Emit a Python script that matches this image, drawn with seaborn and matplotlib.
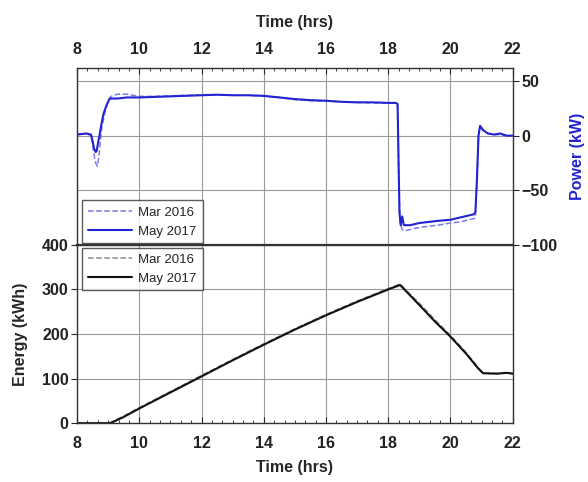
import matplotlib
matplotlib.use("Agg")
import matplotlib.pyplot as plt
from matplotlib.ticker import MultipleLocator
import pandas as pd
import seaborn as sns

# power (kW), May 2017 - solid
t_pow_may = [8.0, 8.3, 8.45, 8.5, 8.55, 8.6, 8.63, 8.68, 8.72, 8.78, 8.85, 8.95, 9.05, 9.3,
             9.6, 10.0, 10.5, 11.0, 11.5, 12.0, 12.5, 13.0, 13.5, 14.0, 14.5, 15.0, 15.5,
             16.0, 16.5, 17.0, 17.5, 18.0, 18.25, 18.3, 18.33, 18.36, 18.4, 18.45, 18.5,
             18.7, 19.0, 19.3, 19.6, 20.0, 20.3, 20.6, 20.75, 20.8, 20.85, 20.9, 20.95,
             21.05, 21.2, 21.4, 21.6, 21.8, 22.0]
p_may = [1, 2, 1, -5, -12, -15, -14, -6, 0, 10, 20, 28, 34, 34,
         35, 35, 35.5, 36, 36.5, 37, 37.5, 37, 37, 36.5, 35, 33.5, 32.5,
         32, 31, 30.5, 30.5, 30, 30, 29, -20, -70, -82, -74, -82,
         -82, -80, -79, -78, -77, -75, -73, -72, -70, -40, 0, 9,
         5, 2, 1, 2, 0, 0]

# power (kW), Mar 2016 - dashed
t_pow_mar = [8.0, 8.3, 8.45, 8.5, 8.55, 8.6, 8.65, 8.7, 8.75, 8.8, 8.9, 9.0, 9.1, 9.3,
             9.6, 9.8, 10.0, 10.5, 11.0, 11.5, 12.0, 12.5, 13.0, 13.5, 14.0, 14.5, 15.0,
             15.5, 16.0, 16.5, 17.0, 17.5, 18.0, 18.25, 18.3, 18.33, 18.38, 18.45, 18.55,
             18.7, 19.0, 19.3, 19.6, 20.0, 20.3, 20.6, 20.75, 20.8, 20.85, 20.9, 20.95,
             21.05, 21.2, 21.4, 21.6, 21.8, 22.0]
p_mar = [1, 2, 0, -8, -18, -25, -28, -20, -5, 8, 22, 32, 36, 38,
         38, 37, 36, 36, 36.5, 37, 37.5, 37.5, 37, 37, 36, 35, 33,
         32, 31.5, 31, 30.5, 30, 30, 29.5, 28, -30, -80, -86, -87,
         -86, -84, -83, -82, -80, -79, -77, -76, -75, -40, 0, 8,
         5, 2, 1, 1, 0, 0]

# energy (kWh)
t_en_may = [8.0, 8.5, 9.0, 9.1, 9.5, 10.0, 11.0, 12.0, 13.0, 14.0, 15.0, 16.0, 17.0,
            18.0, 18.38, 19.0, 19.5, 20.0, 20.5, 20.9, 21.05, 21.5, 21.8, 22.0]
e_may = [0, 0, 0, 1, 14, 33, 69, 105, 141, 176, 210, 242, 272,
         300, 310, 265, 228, 194, 156, 122, 112, 111, 113, 111]
t_en_mar = [8.0, 8.5, 9.0, 9.1, 9.5, 10.0, 11.0, 12.0, 13.0, 14.0, 15.0, 16.0, 17.0,
            18.0, 18.38, 19.0, 19.5, 20.0, 20.5, 20.9, 21.05, 21.5, 21.8, 22.0]
e_mar = [0, 0, 0, 2, 16, 35, 71, 107, 143, 178, 212, 244, 274,
         302, 312, 269, 232, 197, 159, 124, 113, 112, 113, 112]

pow_may = pd.DataFrame({"t": t_pow_may, "p": p_may})
pow_mar = pd.DataFrame({"t": t_pow_mar, "p": p_mar})
en_may = pd.DataFrame({"t": t_en_may, "e": e_may})
en_mar = pd.DataFrame({"t": t_en_mar, "e": e_mar})

sns.set_style("white")
plt.rcParams["font.family"] = ["Liberation Sans", "DejaVu Sans"]

BLUE = "#2323d2"
LBLUE = "#7c7ce8"
GRID = "#9a9a9a"
TICK_FS = 11.5
LAB_FS = 11.5
LEG_FS = 9.5

fig = plt.figure(figsize=(5.88, 4.82), dpi=100)
ax1 = fig.add_axes([0.131, 0.492, 0.741, 0.367])
ax2 = fig.add_axes([0.131, 0.122, 0.741, 0.370])

# top: power
sns.lineplot(data=pow_mar, x="t", y="p", ax=ax1, color=LBLUE, linestyle="--",
             linewidth=1.1, label="Mar 2016")
sns.lineplot(data=pow_may, x="t", y="p", ax=ax1, color=BLUE, linewidth=1.5,
             label="May 2017")
ax1.set_xlim(8, 22)
ax1.set_ylim(-100, 62)
ax1.xaxis.tick_top()
ax1.xaxis.set_label_position("top")
ax1.yaxis.tick_right()
ax1.yaxis.set_label_position("right")
ax1.set_yticks([50, 0, -50, -100])
ax1.set_xticks(range(8, 23, 2))
ax1.xaxis.set_minor_locator(MultipleLocator(1 / 3))
ax1.set_xlabel("Time (hrs)", fontsize=LAB_FS, fontweight="bold", labelpad=11)
ax1.set_ylabel("Power (kW)", fontsize=LAB_FS, fontweight="bold", color=BLUE, labelpad=9)
ax1.tick_params(axis="x", which="both", direction="in", top=True, bottom=False,
                labelsize=TICK_FS, pad=8)
ax1.tick_params(axis="x", which="major", length=4)
ax1.tick_params(axis="x", which="minor", length=2.5)
ax1.tick_params(axis="y", direction="out", right=True, left=False, length=4,
                labelsize=TICK_FS, pad=2)
ax1.grid(True, color=GRID, linewidth=0.8)
leg1 = ax1.legend(loc="lower left", bbox_to_anchor=(0.012, 0.008), borderaxespad=0,
                  fontsize=LEG_FS, frameon=True, fancybox=False, handlelength=3.3,
                  handletextpad=0.5, borderpad=0.45, labelspacing=0.5)
leg1.get_frame().set_edgecolor("#333333")
leg1.get_frame().set_linewidth(1.0)

# bottom: energy
sns.lineplot(data=en_mar, x="t", y="e", ax=ax2, color="#8a8a8a", linestyle="--",
             linewidth=1.1, label="Mar 2016")
sns.lineplot(data=en_may, x="t", y="e", ax=ax2, color="#111111", linewidth=1.5,
             label="May 2017")
ax2.set_xlim(8, 22)
ax2.set_ylim(0, 400)
ax2.set_yticks([0, 100, 200, 300, 400])
ax2.set_xticks(range(8, 23, 2))
ax2.xaxis.set_minor_locator(MultipleLocator(1 / 3))
ax2.set_xlabel("Time (hrs)", fontsize=LAB_FS, fontweight="bold", labelpad=7)
ax2.set_ylabel("Energy (kWh)", fontsize=LAB_FS, fontweight="bold", labelpad=10)
ax2.tick_params(axis="x", which="both", direction="in", bottom=True, top=False,
                labelsize=TICK_FS, pad=9)
ax2.tick_params(axis="x", which="major", length=4)
ax2.tick_params(axis="x", which="minor", length=2.5)
ax2.tick_params(axis="y", direction="out", left=True, length=4, labelsize=TICK_FS, pad=2)
ax2.grid(True, color=GRID, linewidth=0.8)
leg2 = ax2.legend(loc="upper left", bbox_to_anchor=(0.012, 0.985), borderaxespad=0,
                  fontsize=LEG_FS, frameon=True, fancybox=False, handlelength=3.3,
                  handletextpad=0.5, borderpad=0.45, labelspacing=0.5)
leg2.get_frame().set_edgecolor("#333333")
leg2.get_frame().set_linewidth(1.0)

for ax in (ax1, ax2):
    for s in ax.spines.values():
        s.set_color("#333333")
        s.set_linewidth(1.0)
    for lab in ax.get_xticklabels() + ax.get_yticklabels():
        lab.set_fontweight("bold")
        lab.set_color("#222222")
ax1.spines["bottom"].set_linewidth(1.6)

fig.savefig("out.png", dpi=100)
